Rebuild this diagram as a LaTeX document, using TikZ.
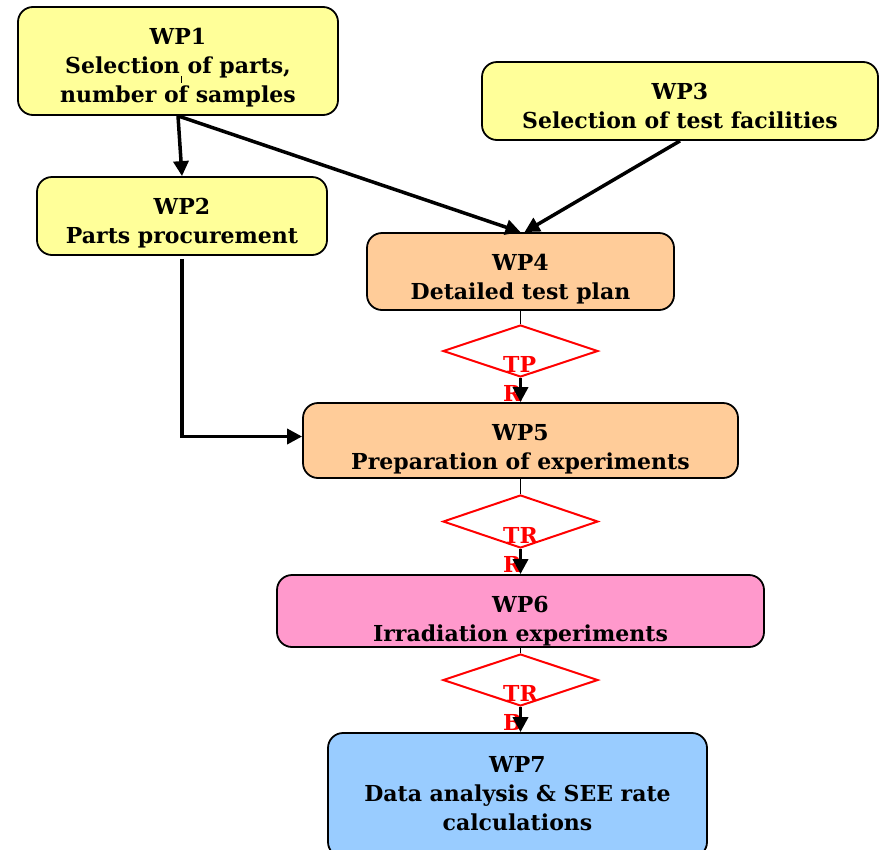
\documentclass[tikz,border=0pt]{standalone}
\usepackage{fontspec}
\setmainfont{DejaVu Serif}
\usetikzlibrary{shapes.geometric,arrows.meta,calc}
\definecolor{wpyellow}{HTML}{FFFF99}
\definecolor{wppeach}{HTML}{FFCC99}
\definecolor{wppink}{HTML}{FF99CC}
\definecolor{wpblue}{HTML}{99CCFF}
\definecolor{gateRed}{HTML}{FF0000}
\tikzset{
  wpbox/.style={draw=black, line width=1.8pt, rounded corners=15pt, inner sep=0pt},
  wptext/.style={align=center, inner sep=0pt, anchor=north,
    font=\fontsize{22}{29}\selectfont\bfseries},
  gate/.style={draw=gateRed, line width=2pt, diamond, inner sep=0pt, fill=white},
  gatetext/.style={text=gateRed, align=left, inner sep=0pt, anchor=north west,
    font=\fontsize{22}{29}\selectfont\bfseries},
  arr/.style={draw=black, line width=3.5pt, -{Triangle[length=15pt,width=15pt]}},
  thinln/.style={draw=black, line width=1.4pt},
}
\begin{document}
\begin{tikzpicture}[x=1pt,y=-1pt]
\useasboundingbox (0,0) rectangle (880,849);
\node[wpbox, fill=wpyellow, minimum width=320pt, minimum height=108pt] (wp1) at (178,61) {};
\node[wpbox, fill=wpyellow, minimum width=396pt, minimum height=78pt] (wp3) at (680,101) {};
\node[wpbox, fill=wpyellow, minimum width=290pt, minimum height=78pt] (wp2) at (182,216) {};
\node[wpbox, fill=wppeach, minimum width=307pt, minimum height=77pt] (wp4) at (520.5,271.5) {};
\node[wpbox, fill=wppeach, minimum width=435pt, minimum height=75pt] (wp5) at (520.5,440.5) {};
\node[wpbox, fill=wppink, minimum width=487pt, minimum height=72pt] (wp6) at (520.5,611) {};
\node[wpbox, fill=wpblue, minimum width=379pt, minimum height=124pt] (wp7) at (517.5,795) {};

\node[wptext] (t1) at ($(wp1.north)+(0,22)$) {WP1\\Selection of parts,\\number of samples};
\node[wptext] (t3) at ($(wp3.north)+(0,22)$) {WP3\\Selection of test facilities};
\node[wptext] (t2) at ($(wp2.north)+(0,22)$) {WP2\\Parts procurement};
\node[wptext] (t4) at ($(wp4.north)+(0,22)$) {WP4\\Detailed test plan};
\node[wptext] (t5) at ($(wp5.north)+(0,22)$) {WP5\\Preparation of experiments};
\node[wptext] (t6) at ($(wp6.north)+(0,22)$) {WP6\\Irradiation experiments};
\node[wptext] (t7) at ($(wp7.north)+(0,24)$) {WP7\\Data analysis \& SEE rate\\calculations};

\coordinate (tick1) at (181,76);
\coordinate (tick2) at (181,83);
\draw[line width=0.8pt] (tick1) -- (tick2);

\node[gate, minimum width=155pt, minimum height=52pt] (d1) at (520.5,351) {};
\node[gate, minimum width=155pt, minimum height=53pt] (d2) at (520.5,521.5) {};
\node[gate, minimum width=155pt, minimum height=52pt] (d3) at (520.5,680) {};

\node[gatetext] (g1) at (503,356) {TP\\R};
\node[gatetext] (g2) at (503,527) {TR\\R};
\node[gatetext] (g3) at (503,685) {TR\\B};

\draw[thinln] (wp4.south) -- (d1.north);
\draw[thinln] (wp5.south) -- (d2.north);
\draw[thinln] (wp6.south) -- (d3.north);
\draw[arr] (d1.south) -- (wp5.north);
\draw[arr] (d2.south) -- (wp6.north);
\draw[arr] (d3.south) -- (d3.south |- wp7.north);

\coordinate (wp4in) at ($(wp4.north)+(4,0)$);
\coordinate (wp2out) at ($(wp2.south)+(0,3)$);
\coordinate (wp5in) at ($(wp5.west)+(0,-4)$);
\draw[arr] (wp1.south) -- (wp2.north);
\draw[arr] (wp1.south) -- (wp4.north);
\draw[arr] (wp3.south) -- (wp4in);
\draw[arr] (wp2out) |- (wp5in);
\end{tikzpicture}
\end{document}
